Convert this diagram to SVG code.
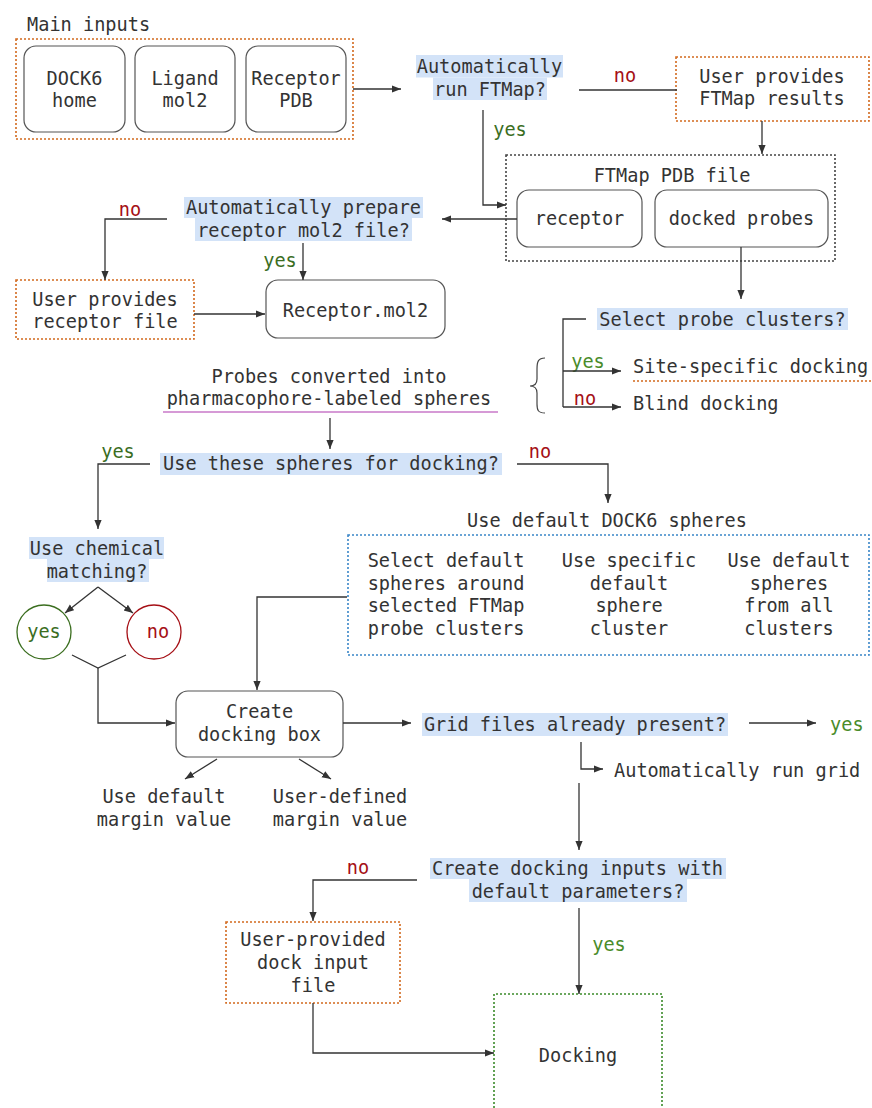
<svg xmlns="http://www.w3.org/2000/svg" width="872" height="1108" viewBox="0 0 872 1108">
<defs>
<marker id="ah" viewBox="0 0 10 10" refX="10" refY="5" markerWidth="9" markerHeight="9" markerUnits="userSpaceOnUse" orient="auto">
<path d="M0,1 L10,5 L0,9 Z" fill="#333"/>
</marker>
<style>
text{font-family:"DejaVu Sans Mono","Liberation Mono",monospace;font-size:18.6px;fill:#333}
.m{text-anchor:middle}
.no{fill:#a50f15}
.yes{fill:#3b6e1f}
.yes2{fill:#4a8c2a}
.hl{fill:#d3e3f8}
.rb{fill:#fff;stroke:#555;stroke-width:1.2}
.or{fill:none;stroke:#d2691e;stroke-width:1.6;stroke-dasharray:2 2}
.bk{fill:none;stroke:#444;stroke-width:1.6;stroke-dasharray:2 2}
.bl{fill:none;stroke:#3a86c8;stroke-width:1.6;stroke-dasharray:2 2}
.gr{fill:none;stroke:#3b8a2a;stroke-width:1.6;stroke-dasharray:2 2}
.c path,.c line{fill:none;stroke:#333;stroke-width:1.3}
.a{marker-end:url(#ah)}
</style>
</defs>

<g id="main-inputs">
<text x="27" y="31">Main inputs</text>
<rect class="or" x="16" y="39" width="337" height="100"/>
<rect class="rb" x="24" y="46" width="101" height="86" rx="12"/>
<text class="m" x="74.5" y="85">DOCK6</text>
<text class="m" x="74.5" y="107">home</text>
<rect class="rb" x="135" y="46" width="100" height="86" rx="12"/>
<text class="m" x="185" y="85">Ligand</text>
<text class="m" x="185" y="107">mol2</text>
<rect class="rb" x="246" y="46" width="100" height="86" rx="12"/>
<text class="m" x="296" y="85">Receptor</text>
<text class="m" x="296" y="107">PDB</text>
</g>

<g id="q-ftmap">
<rect class="hl" x="416" y="55" width="147" height="22.5"/>
<rect class="hl" x="433" y="77.5" width="114" height="22.5"/>
<text class="m" x="489.5" y="73">Automatically</text>
<text class="m" x="490" y="96">run FTMap?</text>
</g>

<g id="user-ftmap">
<rect class="or" x="676" y="57" width="193" height="64"/>
<text class="m" x="772" y="83">User provides</text>
<text class="m" x="772" y="105">FTMap results</text>
</g>

<g id="ftmap-pdb">
<rect class="bk" x="506" y="155" width="329" height="106"/>
<text class="m" x="672" y="182">FTMap PDB file</text>
<rect class="rb" x="517" y="190" width="125" height="57" rx="12"/>
<text class="m" x="579.5" y="225">receptor</text>
<rect class="rb" x="655" y="190" width="173" height="57" rx="12"/>
<text class="m" x="741.5" y="225">docked probes</text>
</g>

<g id="q-prepare">
<rect class="hl" x="184" y="197" width="239" height="21"/>
<rect class="hl" x="195" y="218" width="217" height="23"/>
<text class="m" x="303.5" y="214">Automatically prepare</text>
<text class="m" x="303.5" y="237">receptor mol2 file?</text>
</g>

<g id="user-receptor">
<rect class="or" x="16" y="280" width="178" height="59"/>
<text class="m" x="105" y="306">User provides</text>
<text class="m" x="105" y="328">receptor file</text>
</g>

<g id="receptor-mol2">
<rect class="rb" x="266" y="280" width="179" height="58" rx="12"/>
<text class="m" x="355.5" y="317">Receptor.mol2</text>
</g>

<g id="q-select">
<rect class="hl" x="597" y="308" width="251" height="22"/>
<text class="m" x="722.5" y="326">Select probe clusters?</text>
</g>

<g id="site-specific">
<text x="633" y="373">Site-specific docking</text>
<line x1="633" y1="381" x2="872" y2="381" stroke="#d2691e" stroke-width="1.4" stroke-dasharray="2 2"/>
</g>

<g id="blind">
<text x="633" y="410">Blind docking</text>
</g>

<g id="probes-converted">
<text class="m" x="329" y="383">Probes converted into</text>
<text class="m" x="329" y="405">pharmacophore-labeled spheres</text>
<line x1="163" y1="412" x2="498" y2="412" stroke="#c878c8" stroke-width="1.3"/>
<path d="M545,358 C538,358 537,362 537,369 L537,379 C537,384 535,386 530,386 C535,386 537,388 537,393 L537,404 C537,410 538,413 545,413" fill="none" stroke="#444" stroke-width="1.2"/>
</g>

<g id="q-spheres">
<rect class="hl" x="160" y="453" width="342" height="22"/>
<text class="m" x="331" y="470">Use these spheres for docking?</text>
</g>

<g id="q-chem">
<rect class="hl" x="29" y="537" width="135" height="22"/>
<rect class="hl" x="47" y="559" width="102" height="23"/>
<text class="m" x="97" y="555">Use chemical</text>
<text class="m" x="97" y="578">matching?</text>
</g>

<g id="chem-yes">
<circle cx="44" cy="632" r="27" fill="#fff" stroke="#3b6e1f" stroke-width="1.3"/>
<text class="m yes" x="44" y="638">yes</text>
</g>
<g id="chem-no">
<circle cx="154" cy="632" r="27" fill="#fff" stroke="#a50f15" stroke-width="1.3"/>
<text class="m no" x="158" y="638">no</text>
</g>

<g id="default-spheres">
<text class="m" x="607" y="527">Use default DOCK6 spheres</text>
<rect class="bl" x="348" y="535" width="521" height="120"/>
<text class="m" x="446" y="567">Select default</text>
<text class="m" x="446" y="590">spheres around</text>
<text class="m" x="446" y="612">selected FTMap</text>
<text class="m" x="446" y="635">probe clusters</text>
<text class="m" x="629" y="567">Use specific</text>
<text class="m" x="629" y="590">default</text>
<text class="m" x="629" y="612">sphere</text>
<text class="m" x="629" y="635">cluster</text>
<text class="m" x="789" y="567">Use default</text>
<text class="m" x="789" y="590">spheres</text>
<text class="m" x="789" y="612">from all</text>
<text class="m" x="789" y="635">clusters</text>
</g>

<g id="docking-box">
<rect class="rb" x="176" y="691" width="167" height="66" rx="12"/>
<text class="m" x="259.5" y="718">Create</text>
<text class="m" x="259.5" y="741">docking box</text>
</g>

<g id="margins">
<text class="m" x="164" y="803">Use default</text>
<text class="m" x="164" y="826">margin value</text>
<text class="m" x="340" y="803">User-defined</text>
<text class="m" x="340" y="826">margin value</text>
</g>

<g id="q-grid">
<rect class="hl" x="422" y="713" width="306" height="23"/>
<text class="m" x="575" y="731">Grid files already present?</text>
<text class="yes2" x="830" y="731">yes</text>
<text x="614" y="777">Automatically run grid</text>
</g>

<g id="q-inputs">
<rect class="hl" x="430" y="858" width="296" height="21"/>
<rect class="hl" x="469" y="879" width="218" height="23"/>
<text class="m" x="577.5" y="875">Create docking inputs with</text>
<text class="m" x="578" y="898">default parameters?</text>
</g>

<g id="user-dock-input">
<rect class="or" x="226" y="922" width="174" height="81"/>
<text class="m" x="313" y="946">User-provided</text>
<text class="m" x="313" y="969">dock input</text>
<text class="m" x="313" y="992">file</text>
</g>

<g id="docking">
<path class="gr" d="M494,1112 V994 H662 V1112"/>
<text class="m" x="578" y="1062">Docking</text>
</g>

<g id="labels">
<text class="m no" x="625" y="82">no</text>
<text class="m yes" x="510" y="136">yes</text>
<text class="m no" x="130" y="216">no</text>
<text class="m yes" x="280" y="267">yes</text>
<text class="m yes2" x="588" y="368">yes</text>
<text class="m no" x="585" y="405">no</text>
<text class="m yes" x="118" y="458">yes</text>
<text class="m no" x="540" y="458">no</text>
<text class="m no" x="358" y="874">no</text>
<text class="m yes2" x="609" y="951">yes</text>
</g>

<g id="connectors" class="c">
<line class="a" x1="353" y1="89" x2="401" y2="89"/>
<line x1="579" y1="90" x2="677" y2="90"/>
<line class="a" x1="762" y1="121" x2="762" y2="154"/>
<path class="a" d="M483,110 V205 H506"/>
<line class="a" x1="517" y1="219" x2="442" y2="219"/>
<path class="a" d="M167,219 H105 V280"/>
<line class="a" x1="303" y1="243" x2="303" y2="280"/>
<line class="a" x1="194" y1="314" x2="265" y2="314"/>
<line class="a" x1="741" y1="247" x2="741" y2="299"/>
<path d="M586,319 H563 V407"/>
<path class="a" d="M563,371 H621"/>
<path class="a" d="M563,407 H621"/>
<line class="a" x1="330" y1="418" x2="330" y2="449"/>
<path class="a" d="M150,464 H98 V529"/>
<path class="a" d="M517,464 H608 V503"/>
<path class="a" d="M98,587 L65,613"/>
<path class="a" d="M98,587 L133,613"/>
<path d="M72,655 L98,668 L126,655"/>
<path class="a" d="M98,668 V723 H175"/>
<path class="a" d="M347,597 H257 V690"/>
<line class="a" x1="343" y1="723" x2="411" y2="723"/>
<line class="a" x1="749" y1="723" x2="816" y2="723"/>
<path class="a" d="M581,742 V769 H603"/>
<line class="a" x1="579" y1="783" x2="579" y2="850"/>
<line class="a" x1="217" y1="759" x2="185" y2="779"/>
<line class="a" x1="299" y1="759" x2="331" y2="779"/>
<path class="a" d="M417,880 H313 V921"/>
<line class="a" x1="579" y1="908" x2="579" y2="994"/>
<path class="a" d="M313,1003 V1053 H494"/>
</g>
</svg>
